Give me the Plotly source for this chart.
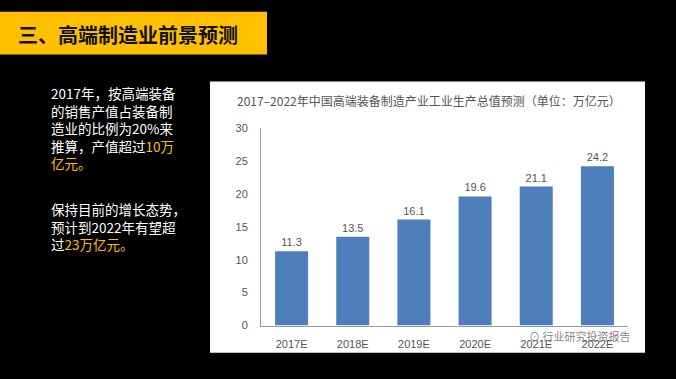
import plotly.graph_objects as go

categories = ["2017E", "2018E", "2019E", "2020E", "2021E", "2022E"]
values = [11.3, 13.5, 16.1, 19.6, 21.1, 24.2]
value_labels = ["11.3", "13.5", "16.1", "19.6", "21.1", "24.2"]
y_ticks = [0, 5, 10, 15, 20, 25, 30]

slide_title = "三、高端制造业前景预测"
chart_title = "2017–2022年中国高端装备制造产业工业生产总值预测（单位：万亿元）"
watermark = "行业研究投资报告"

Y = "<span style='color:#FFC000'>{}</span>"
para1 = [
    "2017年，按高端装备",
    "的销售产值占装备制",
    "造业的比例为20%来",
    "推算，产值超过" + Y.format("10万"),
    Y.format("亿元。"),
]
para2 = [
    "保持目前的增长态势，",
    "预计到2022年有望超",
    "过" + Y.format("23万亿元。"),
]

W, H = 676, 379
def py(p):
    return 1 - p / H
def px(p):
    return p / W

fig = go.Figure()
fig.add_trace(go.Bar(
    x=categories, y=values, text=value_labels,
    textposition="outside", cliponaxis=False,
    textfont=dict(size=11, color="#555555", family="Liberation Sans, Noto Sans CJK SC"),
    marker=dict(color="#4F7FBA", line=dict(width=0)),
    hoverinfo="skip",
))

shapes = [
    dict(type="rect", xref="paper", yref="paper", x0=0, x1=px(267), y0=py(50), y1=py(6),
         fillcolor="#FFC000", line=dict(width=0), layer="below"),
    dict(type="rect", xref="paper", yref="paper", x0=px(210), x1=px(645), y0=py(358), y1=py(78),
         fillcolor="#FFFFFF", line=dict(width=0), layer="below"),
]

annotations = [
    dict(text="<b>" + slide_title + "</b>", xref="paper", yref="paper", x=px(16), y=py(29),
         xanchor="left", yanchor="middle", showarrow=False,
         font=dict(size=20, color="#111111", family="Noto Sans CJK SC")),
    dict(text=chart_title, xref="paper", yref="paper", x=px(235), y=py(98),
         xanchor="left", yanchor="middle", showarrow=False,
         font=dict(size=12, color="#555555", family="Noto Sans CJK SC")),
    dict(text="⊙ " + watermark, xref="paper", yref="paper", x=px(632), y=py(341),
         xanchor="right", yanchor="middle", showarrow=False,
         font=dict(size=11, color="rgba(110,110,110,0.85)", family="Noto Sans CJK SC")),
    dict(text="<br>".join(para1), xref="paper", yref="paper", x=px(49), y=py(126),
         xanchor="left", yanchor="middle", align="left", showarrow=False,
         font=dict(size=13.5, color="#FFFFFF", family="Noto Sans CJK SC")),
    dict(text="<br>".join(para2), xref="paper", yref="paper", x=px(49), y=py(228),
         xanchor="left", yanchor="middle", align="left", showarrow=False,
         font=dict(size=13.5, color="#FFFFFF", family="Noto Sans CJK SC")),
]

fig.update_layout(
    width=W, height=H,
    margin=dict(l=0, r=0, t=0, b=0),
    paper_bgcolor="#000000", plot_bgcolor="rgba(0,0,0,0)",
    showlegend=False, bargap=0.46,
    shapes=shapes, annotations=annotations,
    xaxis=dict(domain=[px(261), px(628)], showgrid=False, zeroline=False,
               showline=True, linecolor="#9A9A9A", linewidth=1, ticks="",
               ticklabelstandoff=8,
               tickfont=dict(size=11, color="#555555", family="Liberation Sans, Noto Sans CJK SC")),
    yaxis=dict(domain=[py(330), py(126)], range=[0, 30], tickvals=y_ticks,
               showgrid=False, zeroline=False, showline=True, linecolor="#9A9A9A", linewidth=1,
               ticks="", ticklabelstandoff=10,
               tickfont=dict(size=11, color="#555555", family="Liberation Sans, Noto Sans CJK SC")),
)

fig.write_html("out.html",
               config={"displayModeBar": False, "staticPlot": True},
               post_script="document.body.style.margin='0';document.body.style.background='#000';")
